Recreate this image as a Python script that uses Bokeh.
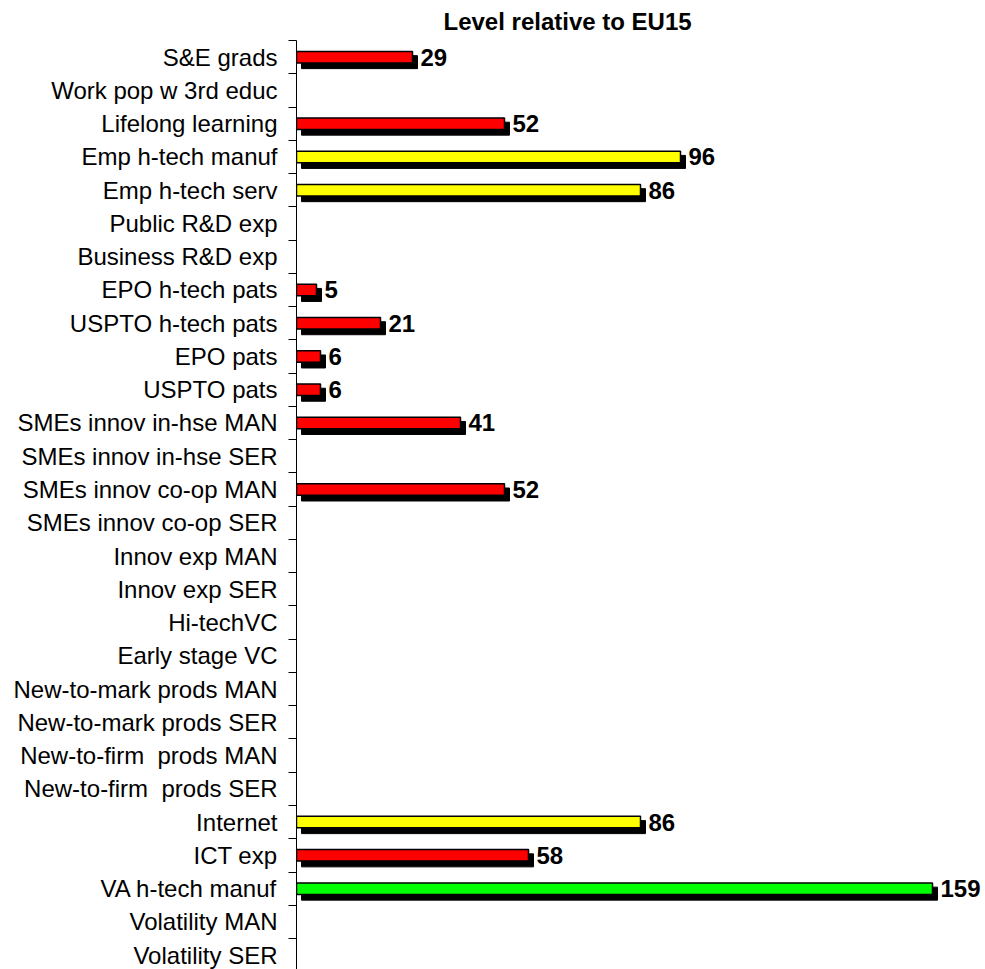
from bokeh.plotting import figure
from bokeh.models import Range1d, FixedTicker, ColumnDataSource, Title, LabelSet
from bokeh.core.properties import value
from bokeh.embed import file_html
from bokeh.resources import INLINE

categories = [
    "S&E grads", "Work pop w 3rd educ", "Lifelong learning", "Emp h-tech manuf",
    "Emp h-tech serv", "Public R&D exp", "Business R&D exp", "EPO h-tech pats",
    "USPTO h-tech pats", "EPO pats", "USPTO pats", "SMEs innov in-hse MAN",
    "SMEs innov in-hse SER", "SMEs innov co-op MAN", "SMEs innov co-op SER",
    "Innov exp MAN", "Innov exp SER", "Hi-techVC", "Early stage VC",
    "New-to-mark prods MAN", "New-to-mark prods SER", "New-to-firm\u00a0 prods MAN",
    "New-to-firm\u00a0 prods SER", "Internet", "ICT exp", "VA h-tech manuf",
    "Volatility MAN", "Volatility SER",
]
values = [29, None, 52, 96, 86, None, None, 5, 21, 6, 6, 41, None, 52, None,
          None, None, None, None, None, None, None, None, 86, 58, 159, None, None]
bar_colors = ["red", None, "red", "yellow", "yellow", None, None, "red", "red",
              "red", "red", "red", None, "red", None, None, None, None, None,
              None, None, None, None, "yellow", "red", "green", None, None]
color_map = {"red": "#FF0000", "yellow": "#FFFF00", "green": "#00FF00"}
title_text = "Level relative to EU15"

FONT = "Liberation Sans"
PX_X = 4.0      # pixels per unit on x
ROW = 33.26     # pixels per category row
SHADOW = 5      # shadow offset in px

idx = [i for i, v in enumerate(values) if v is not None]
vals = [values[i] for i in idx]
cols = [color_map[bar_colors[i]] for i in idx]
src = ColumnDataSource(dict(
    y=idx, right=vals, color=cols, label=[str(v) for v in vals],
    sy=[i + SHADOW / ROW for i in idx],
    sleft=[SHADOW / PX_X for _ in idx],
    sright=[v + SHADOW / PX_X for v in vals],
))

W, H = 985, 969
left_border = 296
top_border = 40
frame_w = W - left_border
frame_h = H - top_border

p = figure(width=W, height=H, output_backend="svg", toolbar_location=None,
           x_range=Range1d(0, frame_w / PX_X),
           y_range=Range1d(-0.5 + frame_h / ROW, -0.5),
           min_border_left=left_border, min_border_top=top_border,
           min_border_right=0, min_border_bottom=0,
           x_axis_location=None)
p.outline_line_color = None
p.grid.visible = False
p.background_fill_color = "white"
p.border_fill_color = "white"

bh = 13 / ROW
p.hbar(y="sy", left="sleft", right="sright", height=bh, source=src,
       fill_color="black", line_color="black", line_width=1)
p.hbar(y="y", left=0, right="right", height=bh - 1.5 / ROW, source=src,
       fill_color="color", line_color="black", line_width=1.5)
labels = LabelSet(x="sright", y="y", text="label", source=src, x_offset=3,
                  text_align="left", text_baseline="middle",
                  text_font=value(FONT), text_font_size="24px",
                  text_font_style="bold", text_color="black")
p.add_layout(labels)

ax = p.yaxis[0]
ax.ticker = FixedTicker(ticks=list(range(len(categories))),
                        minor_ticks=[k - 0.5 for k in range(len(categories) + 1)])
ax.major_label_overrides = {i: c for i, c in enumerate(categories)}
ax.major_tick_in = 0
ax.major_tick_out = 0
ax.minor_tick_in = 0
ax.minor_tick_out = 8
ax.minor_tick_line_color = "black"
ax.axis_line_color = "black"
ax.major_label_standoff = 11
ax.major_label_text_font = FONT
ax.major_label_text_font_size = "24px"
ax.major_label_text_color = "black"

t = Title(text=title_text, align="left", offset=147, standoff=11,
          text_font=FONT, text_font_size="24px", text_font_style="bold",
          text_color="black")
p.add_layout(t, "above")

open("out.html", "w").write(file_html(p, INLINE))
